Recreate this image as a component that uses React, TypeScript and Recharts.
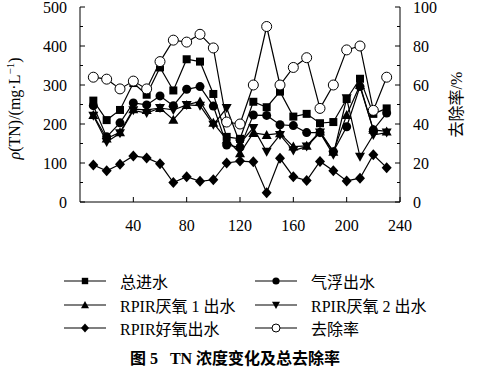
import { ComposedChart, Line, XAxis, YAxis, Legend } from "recharts";

const days = [10, 20, 30, 40, 50, 60, 70, 80, 90, 100, 110, 120, 130, 140, 150, 160, 170, 180, 190, 200, 210, 220, 230];
const influent = [260, 210, 236, 305, 275, 345, 286, 366, 360, 277, 167, 162, 257, 243, 283, 219, 226, 202, 205, 264, 316, 226, 240];
const flotation = [247, 167, 203, 254, 249, 272, 247, 289, 296, 246, 146, 140, 223, 222, 198, 196, 178, 178, 129, 193, 296, 185, 228];
const anaerobic1 = [223, 163, 179, 238, 236, 241, 211, 249, 258, 203, 160, 125, 177, 172, 176, 142, 144, 181, 129, 223, 300, 185, 181];
const anaerobic2 = [221, 154, 176, 235, 228, 241, 236, 249, 247, 198, 241, 150, 190, 129, 172, 132, 142, 178, 121, 266, 116, 172, 178];
const aerobic = [95, 80, 97, 118, 113, 98, 50, 65, 53, 57, 100, 105, 103, 24, 112, 65, 55, 104, 80, 54, 61, 121, 88];
const removal = [64, 63, 58, 62, 58, 72, 83, 82, 86, 79, 41, 40, 60, 90, 60, 69, 74, 48, 60, 78, 80, 47, 64];

const xTicks = [40, 80, 120, 160, 200, 240];
const leftTicks = [0, 50, 100, 150, 200, 250, 300, 350, 400, 450, 500];
const rightTicks = [0, 10, 20, 30, 40, 50, 60, 70, 80, 90, 100];
const legendOrder = ["influent", "flotation", "anaerobic1", "anaerobic2", "aerobic", "removal"];

const data = days.map((d, i) => ({
  day: d,
  influent: influent[i],
  flotation: flotation[i],
  anaerobic1: anaerobic1[i],
  anaerobic2: anaerobic2[i],
  aerobic: aerobic[i],
  removal: removal[i],
}));

const serif = '"Liberation Serif", "Noto Sans CJK SC", serif';

type Kind = "square" | "circle" | "up" | "down" | "diamond" | "open";

const kinds: Record<string, Kind> = {
  influent: "square",
  flotation: "circle",
  anaerobic1: "up",
  anaerobic2: "down",
  aerobic: "diamond",
  removal: "open",
};

function Marker({ cx, cy, kind, s = 1 }: { cx: number; cy: number; kind: Kind; s?: number }) {
  if (cx == null || cy == null) return null;
  switch (kind) {
    case "square":
      return <rect x={cx - 4 * s} y={cy - 4 * s} width={8 * s} height={8 * s} fill="#000" />;
    case "circle":
      return <circle cx={cx} cy={cy} r={4.5 * s} fill="#000" />;
    case "up":
      return <polygon points={`${cx},${cy - 5 * s} ${cx + 5 * s},${cy + 4 * s} ${cx - 5 * s},${cy + 4 * s}`} fill="#000" />;
    case "down":
      return <polygon points={`${cx},${cy + 5 * s} ${cx + 5 * s},${cy - 4 * s} ${cx - 5 * s},${cy - 4 * s}`} fill="#000" />;
    case "diamond":
      return <polygon points={`${cx},${cy - 5.5 * s} ${cx + 5 * s},${cy} ${cx},${cy + 5.5 * s} ${cx - 5 * s},${cy}`} fill="#000" />;
    default:
      return <circle cx={cx} cy={cy} r={5 * s} fill="#fff" stroke="#000" strokeWidth={1} />;
  }
}

const dotFor = (kind: Kind) => (p: any) => <Marker key={`${kind}-${p.index}`} cx={p.cx} cy={p.cy} kind={kind} />;

function LeftTick({ x, y, payload }: any) {
  const v = payload.value;
  const major = v % 100 === 0;
  return (
    <g>
      <line x1={x} y1={y} x2={x + (major ? 5 : 3)} y2={y} stroke="#000" />
      {major && (
        <text x={x - 13} y={y} dy="0.35em" textAnchor="end" fontSize={16} fontFamily={serif} fill="#000">
          {v}
        </text>
      )}
    </g>
  );
}

function RightTick({ x, y, payload }: any) {
  const v = payload.value;
  const major = v % 20 === 0;
  return (
    <g>
      <line x1={x} y1={y} x2={x - (major ? 5 : 3)} y2={y} stroke="#000" />
      {major && (
        <text x={x + 13} y={y} dy="0.35em" textAnchor="start" fontSize={16} fontFamily={serif} fill="#000">
          {v}
        </text>
      )}
    </g>
  );
}

function BottomTick({ x, y, payload }: any) {
  return (
    <g>
      <line x1={x} y1={y} x2={x} y2={y - 5} stroke="#000" />
      <text x={x} y={y + 29} textAnchor="middle" fontSize={16} fontFamily={serif} fill="#000">
        {payload.value}
      </text>
    </g>
  );
}

function LegendBox({ payload }: any) {
  const items = [...(payload || [])].sort(
    (a: any, b: any) => legendOrder.indexOf(a.dataKey) - legendOrder.indexOf(b.dataKey)
  );
  return (
    <div style={{ position: "relative", width: 480, height: 72 }}>
      {items.map((item: any, i: number) => {
        const col = i % 2;
        const row = Math.floor(i / 2);
        const left = col === 0 ? 62 : 253;
        return (
          <div key={item.dataKey} style={{ position: "absolute", left, top: row * 23.5, height: 20, display: "flex", alignItems: "center" }}>
            <svg width={46} height={20} style={{ display: "block" }}>
              <line x1={2} y1={10} x2={44} y2={10} stroke="#000" strokeWidth={1.2} />
              <Marker cx={23} cy={10} kind={kinds[item.dataKey]} s={0.8} />
            </svg>
            <span style={{ marginLeft: 12, fontSize: 16, fontFamily: serif, color: "#000", whiteSpace: "pre" }}>{item.value}</span>
          </div>
        );
      })}
    </div>
  );
}

function LeftLabel({ viewBox }: any) {
  const cy = viewBox.y + viewBox.height / 2 + 4;
  return (
    <text transform={`translate(20, ${cy}) rotate(-90)`} textAnchor="middle" fontSize={16} fontFamily={serif} fill="#000">
      <tspan fontStyle="italic">ρ</tspan>
      <tspan>(TN)/(mg·L</tspan>
      <tspan fontSize={11} dy={-6}>−1</tspan>
      <tspan dy={6}>)</tspan>
    </text>
  );
}

function RightLabel({ viewBox }: any) {
  const cy = viewBox.y + viewBox.height / 2;
  return (
    <text transform={`translate(${viewBox.x + 56}, ${cy}) rotate(-90)`} textAnchor="middle" dy="0.35em" fontSize={16} fontFamily={serif} fill="#000">
      去除率/%
    </text>
  );
}

export default function App() {
  return (
    <div style={{ position: "absolute", left: 0, top: 0, width: 480, height: 373, background: "#fff" }}>
      <ComposedChart width={480} height={373} data={data} margin={{ top: 7, right: 0, bottom: 141, left: 0 }}>
        <XAxis
          dataKey="day"
          type="number"
          domain={[0, 240]}
          ticks={xTicks}
          interval={0}
          tickLine={false}
          tickSize={0}
          tickMargin={0}
          tick={<BottomTick />}
          axisLine={{ stroke: "#000" }}
          height={30}
        />
        <YAxis
          yAxisId="left"
          domain={[0, 500]}
          ticks={leftTicks}
          interval={0}
          tickLine={false}
          tickSize={0}
          tickMargin={0}
          tick={<LeftTick />}
          axisLine={{ stroke: "#000" }}
          width={80}
          label={<LeftLabel />}
        />
        <YAxis
          yAxisId="right"
          orientation="right"
          domain={[0, 100]}
          ticks={rightTicks}
          interval={0}
          tickLine={false}
          tickSize={0}
          tickMargin={0}
          tick={<RightTick />}
          axisLine={{ stroke: "#000" }}
          width={80}
          label={<RightLabel />}
        />
        <Legend
          layout="horizontal"
          verticalAlign="middle"
          align="center"
          itemSorter={null as any}
          content={<LegendBox />}
          wrapperStyle={{ position: "absolute", top: 271, left: 0, width: 480 }}
        />
        <Line yAxisId="left" dataKey="influent" name="总进水" stroke="#000" strokeWidth={1.2} dot={dotFor("square")} isAnimationActive={false} />
        <Line yAxisId="left" dataKey="flotation" name="气浮出水" stroke="#000" strokeWidth={1.2} dot={dotFor("circle")} isAnimationActive={false} />
        <Line yAxisId="left" dataKey="anaerobic1" name="RPIR厌氧 1 出水" stroke="#000" strokeWidth={1.2} dot={dotFor("up")} isAnimationActive={false} />
        <Line yAxisId="left" dataKey="anaerobic2" name="RPIR厌氧 2 出水" stroke="#000" strokeWidth={1.2} dot={dotFor("down")} isAnimationActive={false} />
        <Line yAxisId="left" dataKey="aerobic" name="RPIR好氧出水" stroke="#000" strokeWidth={1.2} dot={dotFor("diamond")} isAnimationActive={false} />
        <Line yAxisId="right" dataKey="removal" name="去除率" stroke="#000" strokeWidth={1.2} dot={dotFor("open")} isAnimationActive={false} />
      </ComposedChart>
      <div
        style={{
          position: "absolute",
          top: 345,
          left: 0,
          width: 470,
          textAlign: "center",
          fontSize: 16,
          fontWeight: "bold",
          fontFamily: serif,
          color: "#000",
          whiteSpace: "pre",
        }}
      >
        图 5   TN 浓度变化及总去除率
      </div>
    </div>
  );
}
